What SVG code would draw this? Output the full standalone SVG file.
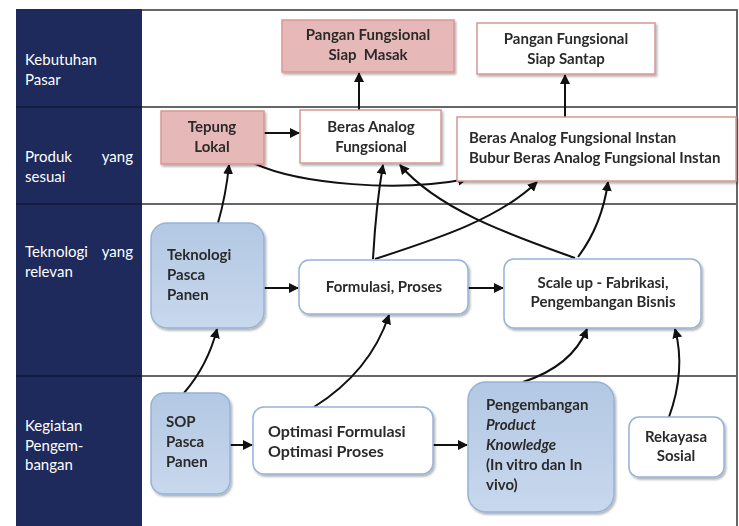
<svg xmlns="http://www.w3.org/2000/svg" width="739" height="526" viewBox="0 0 739 526">
<style>
.lab{font-family:Lato,"Open Sans","Liberation Sans",sans-serif;font-size:15px;fill:#ffffff}
.t{font-family:Lato,"Open Sans","Liberation Sans",sans-serif;font-size:15px;font-weight:bold;fill:#2b2b2b}
.big{font-size:16px}
.c{text-anchor:middle}
.pink{fill:#e6b9b8;stroke:#d99694;stroke-width:1.5}
.pw{fill:#ffffff;stroke:#d99694;stroke-width:1.5}
.blue{fill:url(#bg);stroke:#95b3d7;stroke-width:1.5}
.bw{fill:#ffffff;stroke:#95b3d7;stroke-width:1.5}
.grid{stroke:#666666;stroke-width:2;fill:none}
.con path{fill:none;stroke:#111111;stroke-width:2;marker-end:url(#ah)}
</style>
<defs>
<linearGradient id="bg" x1="0" y1="0" x2="0" y2="1">
<stop offset="0" stop-color="#b3c8e3"/>
<stop offset="1" stop-color="#c8d8ed"/>
</linearGradient>
<filter id="sh" x="-10%" y="-10%" width="130%" height="130%">
<feDropShadow dx="1.5" dy="2" stdDeviation="1.2" flood-color="#000000" flood-opacity="0.3"/>
</filter>
<marker id="ah" viewBox="0 0 10 10" refX="9" refY="5" markerWidth="5" markerHeight="5" orient="auto" markerUnits="strokeWidth">
<path d="M0,0 L10,5 L0,10 z" fill="#111111"/>
</marker>
</defs>
<rect x="0" y="0" width="739" height="526" fill="#ffffff"/>
<g id="grid">
<rect x="16" y="9" width="126" height="517" fill="#1d2a5b"/>
<line class="grid" x1="142" y1="10" x2="737" y2="10"/>
<line class="grid" x1="142" y1="107" x2="737" y2="107"/>
<line class="grid" x1="142" y1="204" x2="737" y2="204"/>
<line class="grid" x1="142" y1="376" x2="737" y2="376"/>
<line class="grid" x1="737" y1="9" x2="737" y2="526"/>
<line x1="16" y1="107" x2="142" y2="107" stroke="#141c40" stroke-width="2"/>
<line x1="16" y1="204" x2="142" y2="204" stroke="#141c40" stroke-width="2"/>
<line x1="16" y1="376" x2="142" y2="376" stroke="#141c40" stroke-width="2"/>
</g>
<g id="row-labels">
<text class="lab" x="25" y="65">Kebutuhan</text>
<text class="lab" x="25" y="85">Pasar</text>
<text class="lab" x="25" y="162">Produk</text>
<text class="lab" x="133" y="162" text-anchor="end">yang</text>
<text class="lab" x="25" y="182">sesuai</text>
<text class="lab" x="25" y="257">Teknologi</text>
<text class="lab" x="133" y="257" text-anchor="end">yang</text>
<text class="lab" x="25" y="277">relevan</text>
<text class="lab" x="25" y="431">Kegiatan</text>
<text class="lab" x="25" y="451">Pengem-</text>
<text class="lab" x="25" y="470">bangan</text>
</g>
<g id="connectors" class="con">
<path d="M359,110 L359,73"/>
<path d="M565,117 L565,75"/>
<path d="M264,133 L299,133"/>
<path d="M253,163 C300,185 400,192 467,179"/>
<path d="M218,223 Q226,195 229,165"/>
<path d="M184,393 Q208,365 217,329"/>
<path d="M264,288 L298,288"/>
<path d="M468,288 L503,288"/>
<path d="M373,259 Q376,205 383,165"/>
<path d="M375,259 C440,238 500,218 537,182"/>
<path d="M575,258 C520,238 440,212 400,165"/>
<path d="M578,257 Q602,225 608,182"/>
<path d="M230,445 L252,445"/>
<path d="M314,407 Q370,372 389,315"/>
<path d="M433,445 L467,445"/>
<path d="M523,382 Q572,366 587,329"/>
<path d="M669,417 Q686,370 675,329"/>
</g>
<g id="n-siap-masak" filter="url(#sh)">
<rect class="pink" x="282" y="20" width="172" height="52"/>
<text class="t c" x="368" y="40">Pangan Fungsional</text>
<text class="t c" x="368" y="60" xml:space="preserve">Siap  Masak</text>
</g>
<g id="n-siap-santap" filter="url(#sh)">
<rect class="pw" x="477" y="23" width="178" height="51"/>
<text class="t c" x="566" y="44">Pangan Fungsional</text>
<text class="t c" x="566" y="64">Siap Santap</text>
</g>
<g id="n-tepung" filter="url(#sh)">
<rect class="pink" x="161" y="111" width="103" height="53"/>
<text class="t c" x="212" y="132">Tepung</text>
<text class="t c" x="212" y="152">Lokal</text>
</g>
<g id="n-beras" filter="url(#sh)">
<rect class="pw" x="300" y="110" width="141" height="53"/>
<text class="t c" x="371" y="132">Beras Analog</text>
<text class="t c" x="371" y="152">Fungsional</text>
</g>
<g id="n-instan" filter="url(#sh)">
<rect class="pw" x="457" y="117" width="279" height="64"/>
<text class="t" x="469" y="143">Beras Analog Fungsional Instan</text>
<text class="t" x="469" y="163">Bubur Beras Analog Fungsional Instan</text>
</g>
<g id="n-tpp" filter="url(#sh)">
<rect class="blue" x="151" y="223" width="113" height="105" rx="16"/>
<text class="t" x="167" y="260">Teknologi</text>
<text class="t" x="167" y="280">Pasca</text>
<text class="t" x="167" y="300">Panen</text>
</g>
<g id="n-formulasi" filter="url(#sh)">
<rect class="bw" x="299" y="260" width="169" height="54" rx="10"/>
<text class="t c" x="384" y="292">Formulasi, Proses</text>
</g>
<g id="n-scaleup" filter="url(#sh)">
<rect class="bw" x="504" y="259" width="197" height="69" rx="10"/>
<text class="t c" x="603" y="288">Scale up - Fabrikasi,</text>
<text class="t c" x="603" y="307">Pengembangan Bisnis</text>
</g>
<g id="n-sop" filter="url(#sh)">
<rect class="blue" x="151" y="393" width="79" height="101" rx="13"/>
<text class="t" x="166" y="427">SOP</text>
<text class="t" x="166" y="447">Pasca</text>
<text class="t" x="166" y="467">Panen</text>
</g>
<g id="n-optimasi" filter="url(#sh)">
<rect class="bw" x="253" y="407" width="180" height="67" rx="11"/>
<text class="t big" x="268" y="437">Optimasi Formulasi</text>
<text class="t big" x="268" y="457">Optimasi Proses</text>
</g>
<g id="n-pengembangan" filter="url(#sh)">
<rect class="blue" x="468" y="382" width="146" height="130" rx="18"/>
<text class="t" x="486" y="410">Pengembangan</text>
<text class="t" x="486" y="430" font-style="italic">Product</text>
<text class="t" x="486" y="450" font-style="italic">Knowledge</text>
<text class="t" x="486" y="470">(In vitro dan In</text>
<text class="t" x="486" y="490">vivo)</text>
</g>
<g id="n-rekayasa" filter="url(#sh)">
<rect class="bw" x="629" y="417" width="95" height="60" rx="10"/>
<text class="t c" x="676" y="442">Rekayasa</text>
<text class="t c" x="676" y="461">Sosial</text>
</g>
</svg>
